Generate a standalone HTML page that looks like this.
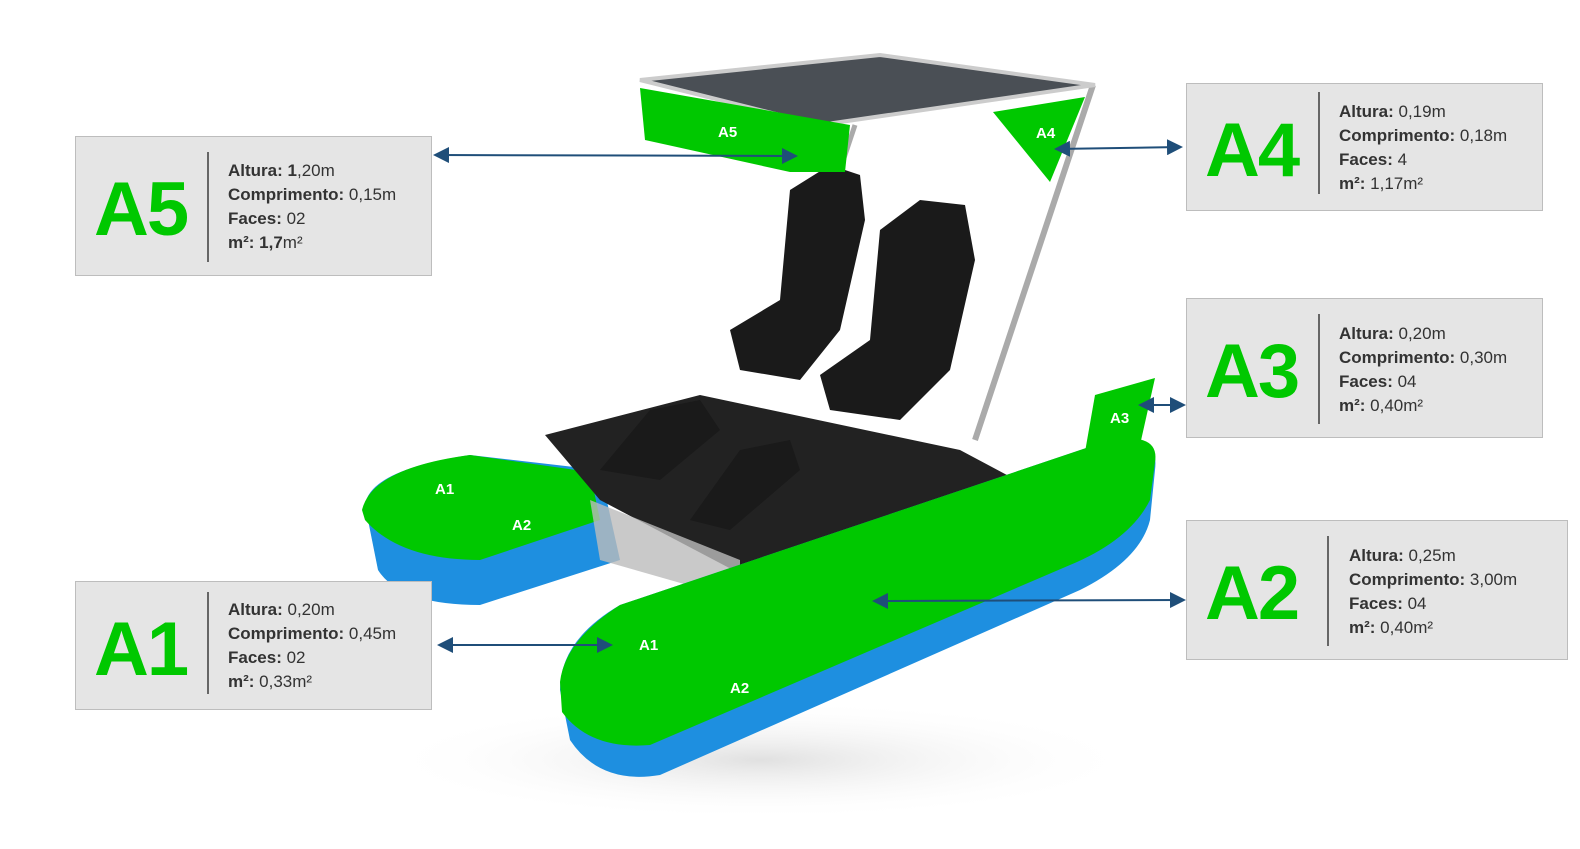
<!DOCTYPE html>
<html><head><meta charset="utf-8"><style>
html,body{margin:0;padding:0;background:#fff;}
body{width:1580px;height:849px;position:relative;overflow:hidden;font-family:"Liberation Sans",sans-serif;}
.box{position:absolute;background:#e5e5e5;border:1.5px solid #bdbdbd;box-sizing:border-box;}
.big{position:absolute;color:#00c800;font-weight:bold;font-size:76px;letter-spacing:-2px;line-height:1;}
.div{position:absolute;width:2px;background:#666;}
.txt{position:absolute;font-size:17px;color:#333;line-height:24px;}
.txt b{color:#333;}
svg{position:absolute;left:0;top:0;}
</style></head><body>
<svg width="1580" height="849" viewBox="0 0 1580 849">
<defs>
<marker id="ar" markerWidth="8" markerHeight="8" refX="7" refY="4" orient="auto-start-reverse"><path d="M0,0 L8,4 L0,8 z" fill="#1f4e79"/></marker>
<radialGradient id="sh" cx="0.5" cy="0.5" r="0.5"><stop offset="0" stop-color="#ccc" stop-opacity="0.6"/><stop offset="1" stop-color="#fff" stop-opacity="0"/></radialGradient>
</defs>
<ellipse cx="760" cy="760" rx="380" ry="60" fill="url(#sh)"/>
<path d="M365,505 Q370,470 470,455 L600,470 L620,560 L480,605 Q400,605 378,570 Z" fill="#1e8fe0"/>
<path d="M362,510 Q372,468 470,455 L590,472 L600,520 L480,560 Q400,560 365,520 Z" fill="#00c800"/>
<path d="M545,435 L700,395 L960,450 L1035,490 L830,600 L790,600 L600,500 Z" fill="#222"/>
<path d="M590,500 L740,560 L740,600 L600,560 Z" fill="#bbb" opacity="0.8"/>
<path d="M730,330 L780,300 L790,190 L830,165 L860,175 L865,220 L840,330 L800,380 L740,370 Z" fill="#1a1a1a"/>
<path d="M820,375 L870,340 L880,230 L920,200 L965,205 L975,260 L950,370 L900,420 L830,410 Z" fill="#1a1a1a"/>
<path d="M600,470 L650,410 L700,400 L720,430 L660,480 Z" fill="#1a1a1a"/>
<path d="M690,520 L740,450 L790,440 L800,470 L730,530 Z" fill="#1a1a1a"/>
<path d="M560,690 Q560,640 620,605 L1110,440 Q1160,430 1155,470 L1150,520 Q1140,560 1080,590 L660,775 Q600,785 570,740 Z" fill="#1e8fe0"/>
<path d="M560,682 Q565,640 620,605 L1110,440 Q1160,432 1155,462 L1150,500 Q1130,540 1070,565 L650,745 Q590,750 562,712 Z" fill="#00c800"/>
<path d="M1095,395 L1155,378 L1140,445 L1085,452 Z" fill="#00c800"/>
<line x1="1093" y1="85" x2="975" y2="440" stroke="#aaa" stroke-width="6"/>
<line x1="855" y1="125" x2="840" y2="170" stroke="#aaa" stroke-width="5"/>
<path d="M640,80 L880,55 L1095,85 L820,125 Z" fill="#4a4f55" stroke="#ccc" stroke-width="4"/>
<path d="M640,88 L850,125 L845,172 L790,172 L645,140 Z" fill="#00c800"/>
<path d="M993,112 L1085,97 L1050,182 Z" fill="#00c800"/>
<g fill="#fff" font-weight="bold" font-size="15" font-family="Liberation Sans,sans-serif">
<text x="718" y="137">A5</text><text x="1036" y="138">A4</text><text x="1110" y="423">A3</text>
<text x="435" y="494">A1</text><text x="512" y="530">A2</text>
<text x="639" y="650">A1</text><text x="730" y="693">A2</text></g>
<g stroke="#1f4e79" stroke-width="2" fill="none">
<line x1="435" y1="155" x2="796" y2="156" marker-start="url(#ar)" marker-end="url(#ar)"/>
<line x1="1056" y1="149" x2="1181" y2="147" marker-start="url(#ar)" marker-end="url(#ar)"/>
<line x1="1140" y1="405" x2="1184" y2="405" marker-start="url(#ar)" marker-end="url(#ar)"/>
<line x1="874" y1="601" x2="1184" y2="600" marker-start="url(#ar)" marker-end="url(#ar)"/>
<line x1="439" y1="645" x2="611" y2="645" marker-start="url(#ar)" marker-end="url(#ar)"/>
</g>
</svg>

<div class="box" style="left:75px;top:136px;width:357px;height:140px;"></div>
<div class="big" style="left:94px;top:172px;">A5</div>
<div class="div" style="left:207px;top:152px;height:110px;"></div>
<div class="txt" style="left:228px;top:159px;"><b>Altura: 1</b>,20m<br><b>Comprimento:</b> 0,15m<br><b>Faces:</b> 02<br><b>m²: 1,7</b>m²</div>

<div class="box" style="left:75px;top:581px;width:357px;height:129px;"></div>
<div class="big" style="left:94px;top:612px;">A1</div>
<div class="div" style="left:207px;top:592px;height:102px;"></div>
<div class="txt" style="left:228px;top:598px;"><b>Altura:</b> 0,20m<br><b>Comprimento:</b> 0,45m<br><b>Faces:</b> 02<br><b>m²:</b> 0,33m²</div>

<div class="box" style="left:1186px;top:83px;width:357px;height:128px;"></div>
<div class="big" style="left:1205px;top:113px;">A4</div>
<div class="div" style="left:1318px;top:92px;height:102px;"></div>
<div class="txt" style="left:1339px;top:100px;"><b>Altura:</b> 0,19m<br><b>Comprimento:</b> 0,18m<br><b>Faces:</b> 4<br><b>m²:</b> 1,17m²</div>

<div class="box" style="left:1186px;top:298px;width:357px;height:140px;"></div>
<div class="big" style="left:1205px;top:334px;">A3</div>
<div class="div" style="left:1318px;top:314px;height:110px;"></div>
<div class="txt" style="left:1339px;top:322px;"><b>Altura:</b> 0,20m<br><b>Comprimento:</b> 0,30m<br><b>Faces:</b> 04<br><b>m²:</b> 0,40m²</div>

<div class="box" style="left:1186px;top:520px;width:382px;height:140px;"></div>
<div class="big" style="left:1205px;top:556px;">A2</div>
<div class="div" style="left:1327px;top:536px;height:110px;"></div>
<div class="txt" style="left:1349px;top:544px;"><b>Altura:</b> 0,25m<br><b>Comprimento:</b> 3,00m<br><b>Faces:</b> 04<br><b>m²:</b> 0,40m²</div>
</body></html>
